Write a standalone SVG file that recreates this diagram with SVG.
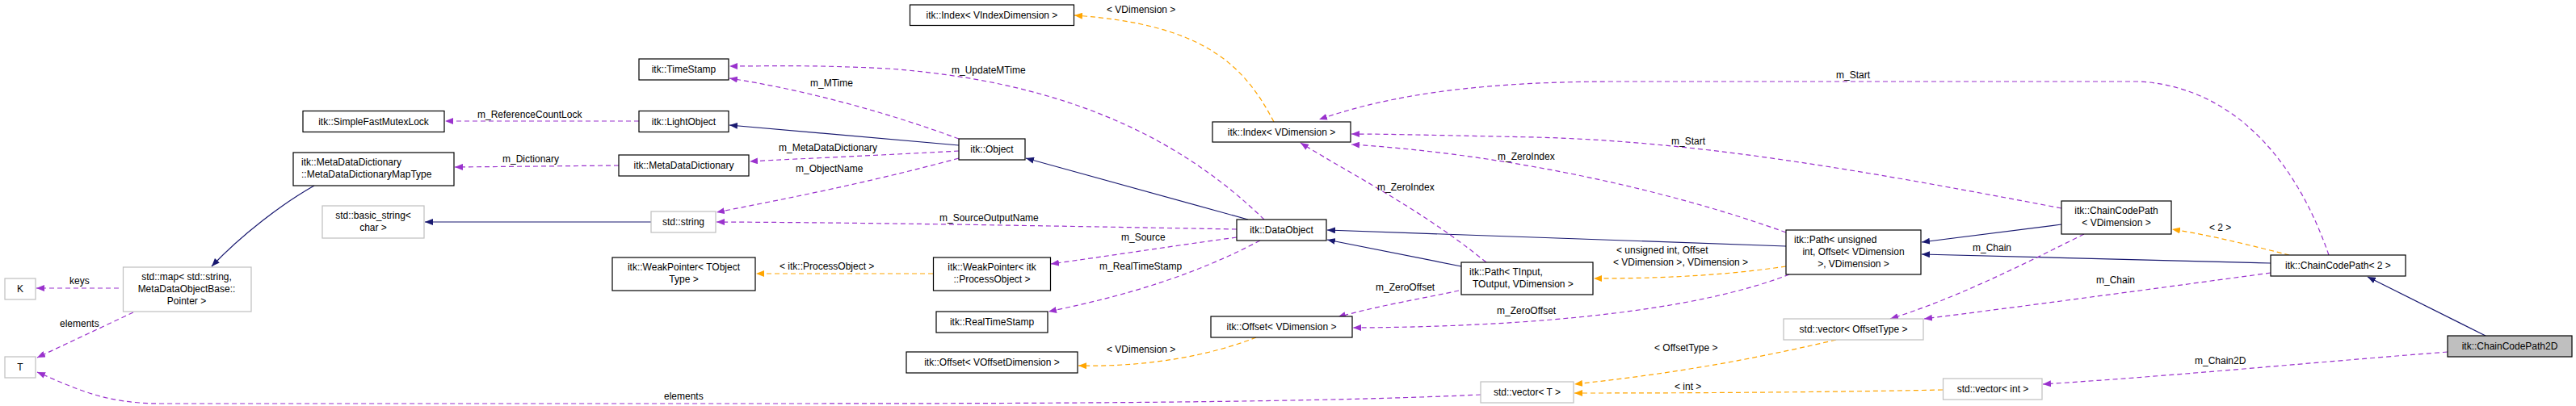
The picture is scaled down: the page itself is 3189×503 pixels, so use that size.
<svg xmlns="http://www.w3.org/2000/svg" width="3189" height="503" viewBox="0 0 3189 503">
<defs>
<style>
text{font-family:"Liberation Sans",Arial,sans-serif;font-size:12px;fill:#000}
.n rect{fill:#fff;stroke:#000;stroke-width:1.2}
.g rect{fill:#fff;stroke:#bfbfbf;stroke-width:1.2}
.c{text-anchor:middle}
.inh{fill:none;stroke:#191970;stroke-width:1.2;marker-end:url(#an)}
.use{fill:none;stroke:#9a32cd;stroke-width:1.2;stroke-dasharray:6,4;marker-end:url(#ap)}
.tpl{fill:none;stroke:#ffa500;stroke-width:1.2;stroke-dasharray:6,4;marker-end:url(#ao)}
</style>
<marker id="an" viewBox="0 0 10 8" refX="10" refY="4" markerWidth="10" markerHeight="8" markerUnits="userSpaceOnUse" orient="auto"><path d="M0,0L10,4L0,8z" fill="#191970"/></marker>
<marker id="ap" viewBox="0 0 10 8" refX="10" refY="4" markerWidth="10" markerHeight="8" markerUnits="userSpaceOnUse" orient="auto"><path d="M0,0L10,4L0,8z" fill="#9a32cd"/></marker>
<marker id="ao" viewBox="0 0 10 8" refX="10" refY="4" markerWidth="10" markerHeight="8" markerUnits="userSpaceOnUse" orient="auto"><path d="M0,0L10,4L0,8z" fill="#ffa500"/></marker>
</defs>
<rect width="3189" height="503" fill="#fff"/>
<g id="connectors">
<path class="use" d="M791,150L551,150"/>
<text x="591" y="146">m_ReferenceCountLock</text>
<path class="use" d="M766,205L563,207"/>
<text x="622" y="201">m_Dictionary</text>
<path class="inh" d="M389,230C350,252 300,290 262,330"/>
<path class="inh" d="M806,275L526,275"/>
<path class="use" d="M147,357L45,357"/>
<text x="86" y="352">keys</text>
<path class="use" d="M165,387L46,443"/>
<text x="74" y="405">elements</text>
<path class="use" d="M1833,489C1600,500 1200,500 900,500L200,500C130,500 95,482 46,461"/>
<text x="822" y="495">elements</text>
<path class="inh" d="M1187,180L903,155"/>
<path class="use" d="M1187,172C1100,140 1000,112 903,97"/>
<text x="1003" y="107">m_MTime</text>
<path class="use" d="M1565,272C1450,160 1300,100 1100,85C1000,80 950,82 903,82"/>
<text x="1178" y="91">m_UpdateMTime</text>
<path class="use" d="M1187,187C1100,192 1000,196 928,200"/>
<text x="964" y="187">m_MetaDataDictionary</text>
<path class="use" d="M1187,196C1080,225 980,245 887,263"/>
<text x="985" y="213">m_ObjectName</text>
<path class="use" d="M1531,284C1300,280 1100,276 887,275"/>
<text x="1163" y="274">m_SourceOutputName</text>
<path class="inh" d="M1545,272L1270,196"/>
<path class="use" d="M1531,294C1450,305 1380,316 1301,327"/>
<text x="1388" y="298">m_Source</text>
<path class="use" d="M1560,298C1480,340 1400,365 1298,386"/>
<text x="1361" y="334">m_RealTimeStamp</text>
<path class="tpl" d="M1155,339L936,339"/>
<text x="965" y="334">&lt; itk::ProcessObject &gt;</text>
<path class="tpl" d="M1577,151C1540,80 1490,30 1330,19"/>
<text x="1370" y="16">&lt; VDimension &gt;</text>
<path class="tpl" d="M1555,418C1500,440 1420,455 1335,453"/>
<text x="1370" y="437">&lt; VDimension &gt;</text>
<path class="inh" d="M1809,330L1643,297"/>
<path class="inh" d="M2211,305L1643,285"/>
<path class="use" d="M1840,325C1760,260 1680,220 1610,177"/>
<text x="1705" y="236">m_ZeroIndex</text>
<path class="use" d="M1806,360C1760,370 1700,380 1656,393"/>
<text x="1703" y="360">m_ZeroOffset</text>
<path class="use" d="M2211,288C2050,230 1850,190 1673,179"/>
<text x="1854" y="198">m_ZeroIndex</text>
<path class="use" d="M2215,340C2100,385 1900,405 1675,406"/>
<text x="1853" y="389">m_ZeroOffset</text>
<path class="tpl" d="M2211,330C2130,342 2050,345 1973,345"/>
<text x="2001" y="314">&lt; unsigned int, Offset</text>
<text x="1997" y="329">&lt; VDimension &gt;, VDimension &gt;</text>
<path class="inh" d="M2552,278L2379,300"/>
<path class="use" d="M2552,258C2300,210 2100,175 1900,170C1800,168 1720,166 1673,166"/>
<text x="2069" y="179">m_Start</text>
<path class="use" d="M2883,316C2850,220 2780,110 2650,101L2000,101C1800,101 1700,125 1633,148"/>
<text x="2273" y="97">m_Start</text>
<path class="tpl" d="M2834,316C2790,305 2740,292 2689,284"/>
<text x="2735" y="286">&lt; 2 &gt;</text>
<path class="inh" d="M2811,326L2379,315"/>
<path class="use" d="M2580,290C2500,330 2420,370 2340,395"/>
<text x="2442" y="311">m_Chain</text>
<path class="use" d="M2811,338C2650,360 2500,380 2382,395"/>
<text x="2595" y="351">m_Chain</text>
<path class="inh" d="M3077,416L2931,343"/>
<path class="use" d="M3030,436C2850,450 2700,465 2529,476"/>
<text x="2717" y="451">m_Chain2D</text>
<path class="tpl" d="M2273,421C2150,450 2050,465 1949,476"/>
<text x="2048" y="435">&lt; OffsetType &gt;</text>
<path class="tpl" d="M2405,483C2250,486 2100,487 1949,487"/>
<text x="2073" y="483">&lt; int &gt;</text>
</g>
<g id="n_mutex" class="n"><rect x="375" y="137.5" width="175" height="26"/><text class="c" x="462.5" y="155">itk::SimpleFastMutexLock</text></g>
<g id="n_maptype" class="n"><rect x="363" y="189" width="199" height="41"/><text x="373" y="205">itk::MetaDataDictionary</text><text x="373" y="220">::MetaDataDictionaryMapType</text></g>
<g id="n_basicstring" class="g"><rect x="399" y="255" width="126" height="40"/><text class="c" x="462" y="271">std::basic_string&lt;</text><text class="c" x="462" y="286">char &gt;</text></g>
<g id="n_map" class="g"><rect x="152.5" y="331" width="158.5" height="55"/><text class="c" x="231" y="347">std::map&lt; std::string,</text><text class="c" x="231" y="362">MetaDataObjectBase::</text><text class="c" x="231" y="377">Pointer &gt;</text></g>
<g id="n_K" class="g"><rect x="6" y="345" width="38" height="26"/><text class="c" x="25" y="362">K</text></g>
<g id="n_T" class="g"><rect x="6" y="442" width="38" height="26"/><text class="c" x="25" y="459">T</text></g>
<g id="n_timestamp" class="n"><rect x="791" y="73" width="111" height="26"/><text class="c" x="846.5" y="90">itk::TimeStamp</text></g>
<g id="n_lightobject" class="n"><rect x="791" y="137.5" width="111" height="26"/><text class="c" x="846.5" y="155">itk::LightObject</text></g>
<g id="n_mdd" class="n"><rect x="766" y="192" width="161" height="26"/><text class="c" x="846.5" y="209">itk::MetaDataDictionary</text></g>
<g id="n_string" class="g"><rect x="806" y="262" width="80" height="26"/><text class="c" x="846" y="279">std::string</text></g>
<g id="n_weakptr" class="n"><rect x="758" y="319" width="177" height="41"/><text class="c" x="846.5" y="335">itk::WeakPointer&lt; TObject</text><text class="c" x="846.5" y="350">Type &gt;</text></g>
<g id="n_indexvid" class="n"><rect x="1126.5" y="6" width="203" height="25.5"/><text class="c" x="1228" y="23">itk::Index&lt; VIndexDimension &gt;</text></g>
<g id="n_object" class="n"><rect x="1187" y="172" width="82" height="26"/><text class="c" x="1228" y="189">itk::Object</text></g>
<g id="n_indexvd" class="n"><rect x="1501" y="151" width="171" height="25"/><text class="c" x="1586.5" y="168">itk::Index&lt; VDimension &gt;</text></g>
<g id="n_dataobject" class="n"><rect x="1531" y="272" width="111" height="26"/><text class="c" x="1586.5" y="289">itk::DataObject</text></g>
<g id="n_weakptrpo" class="n"><rect x="1155.5" y="319" width="145" height="41"/><text class="c" x="1228" y="335">itk::WeakPointer&lt; itk</text><text class="c" x="1228" y="350">::ProcessObject &gt;</text></g>
<g id="n_realtimestamp" class="n"><rect x="1159" y="386" width="138" height="26"/><text class="c" x="1228" y="403">itk::RealTimeStamp</text></g>
<g id="n_offsetvd" class="n"><rect x="1499" y="392" width="175" height="26"/><text class="c" x="1586.5" y="409">itk::Offset&lt; VDimension &gt;</text></g>
<g id="n_offsetvod" class="n"><rect x="1122" y="436" width="212" height="26"/><text class="c" x="1228" y="453">itk::Offset&lt; VOffsetDimension &gt;</text></g>
<g id="n_pathtin" class="n"><rect x="1809" y="325" width="163" height="40"/><text x="1819" y="341">itk::Path&lt; TInput,</text><text x="1823" y="356">TOutput, VDimension &gt;</text></g>
<g id="n_pathui" class="n"><rect x="2211" y="285" width="167" height="55"/><text x="2221" y="301">itk::Path&lt; unsigned</text><text class="c" x="2294.5" y="316">int, Offset&lt; VDimension</text><text class="c" x="2294.5" y="331">&gt;, VDimension &gt;</text></g>
<g id="n_vecoffset" class="g"><rect x="2208" y="395" width="173" height="26"/><text class="c" x="2294.5" y="412">std::vector&lt; OffsetType &gt;</text></g>
<g id="n_vecT" class="g"><rect x="1833" y="473" width="115" height="26"/><text class="c" x="1890.5" y="490">std::vector&lt; T &gt;</text></g>
<g id="n_vecint" class="g"><rect x="2405.5" y="469" width="122.5" height="26"/><text class="c" x="2467" y="486">std::vector&lt; int &gt;</text></g>
<g id="n_ccpvd" class="n"><rect x="2552" y="249" width="136" height="41"/><text class="c" x="2620" y="265">itk::ChainCodePath</text><text class="c" x="2620" y="280">&lt; VDimension &gt;</text></g>
<g id="n_ccp2" class="n"><rect x="2811" y="316" width="167" height="26"/><text class="c" x="2894.5" y="333">itk::ChainCodePath&lt; 2 &gt;</text></g>
<g id="n_ccp2d"><rect x="3030" y="416" width="154" height="26" fill="#bfbfbf" stroke="#000" stroke-width="1.2"/><text class="c" x="3107" y="433">itk::ChainCodePath2D</text></g>
</svg>
